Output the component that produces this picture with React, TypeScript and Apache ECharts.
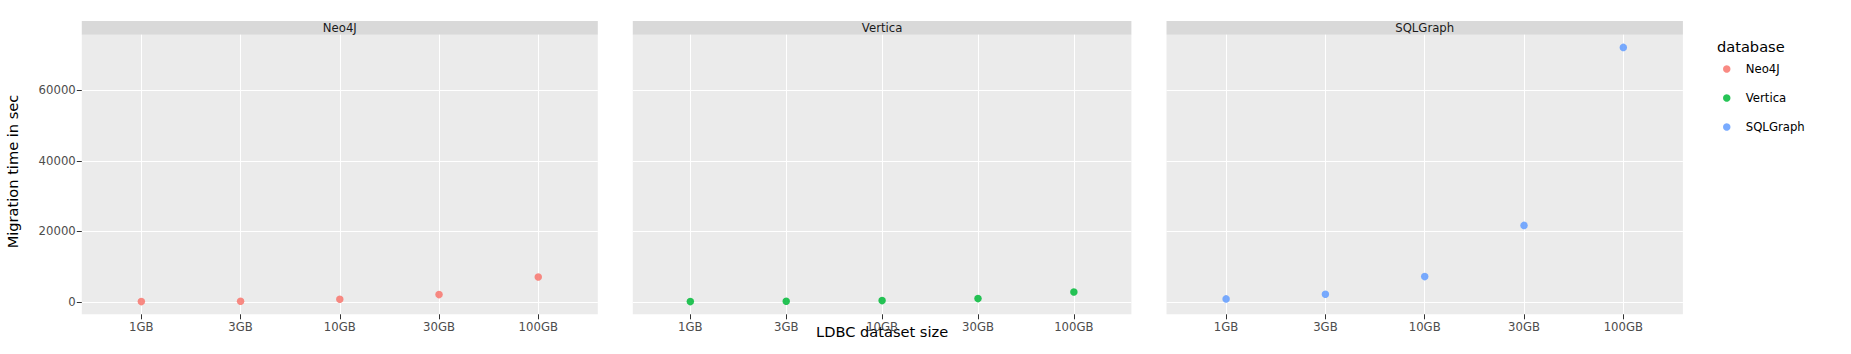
import React, { useEffect, useRef } from "react";
import * as echarts from "echarts";

const categories = ["1GB", "3GB", "10GB", "30GB", "100GB"];
const databases = ["Neo4J", "Vertica", "SQLGraph"];
const neo4jValues = [85, 170, 740, 2070, 7080];
const verticaValues = [85, 170, 370, 935, 2830];
const sqlgraphValues = [850, 2150, 7170, 21700, 72200];
const yTicks = [0, 20000, 40000, 60000];
const colors = ["#F8766D", "#00BA38", "#619CFF"];

const FONT = "DejaVu Sans";

export default function App() {
  const ref = useRef<HTMLDivElement>(null);
  useEffect(() => {
    if (!ref.current) return;
    const chart = echarts.init(ref.current, undefined, { renderer: "svg" });
    const seriesValues = [neo4jValues, verticaValues, sqlgraphValues];
    const grids = [
      { left: 81.8, top: 34.7, width: 516, height: 279.6 },
      { left: 632.8, top: 34.7, width: 498.6, height: 279.6 },
      { left: 1166.5, top: 34.7, width: 516.4, height: 279.6 },
    ];
    const xIdx = categories.map((_, i) => i);
    const xAxes = grids.map((_, g) => ({
      type: "value",
      gridIndex: g,
      min: -0.6,
      max: 4.6,
      position: "bottom",
      axisLine: { show: false, onZero: false },
      axisTick: { show: true, length: 5, customValues: xIdx, lineStyle: { color: "#333333", width: 1 } },
      axisLabel: {
        show: true,
        customValues: xIdx,
        margin: 7,
        formatter: (v: number) => categories[Math.round(v)] ?? "",
        color: "#4d4d4d",
        fontSize: 11.7,
        fontFamily: FONT,
      },
      splitLine: { show: true, lineStyle: { color: "#ffffff", width: 1 } },
      name: g === 1 ? "LDBC dataset size" : "",
      nameLocation: "middle",
      nameGap: 10,
      nameMoveOverlap: false,
      nameTextStyle: { color: "#000000", fontSize: 14.6, fontFamily: FONT },
    }));
    const yAxes = grids.map((_, g) => ({
      type: "value",
      gridIndex: g,
      min: -3520,
      max: 75800,
      position: "left",
      axisLine: { show: false, onZero: false },
      axisTick: {
        show: true,
        length: 5,
        customValues: yTicks,
        lineStyle: { color: g === 0 ? "#333333" : "rgba(0,0,0,0)", width: 1 },
      },
      axisLabel: {
        show: g === 0,
        customValues: yTicks,
        margin: 6,
        formatter: (v: number) => String(v),
        color: "#4d4d4d",
        fontSize: 11.7,
        fontFamily: FONT,
      },
      splitLine: { show: true, lineStyle: { color: "#ffffff", width: 1 } },
      name: g === 0 ? "Migration time in sec" : "",
      nameLocation: "middle",
      nameRotate: 90,
      nameGap: 62,
      nameMoveOverlap: false,
      nameTextStyle: { color: "#000000", fontSize: 14.6, fontFamily: FONT, padding: [0, 0, 0, 6] },
    }));
    const graphics: any[] = [];
    grids.forEach((gr, g) => {
      graphics.push({
        type: "rect",
        shape: { x: gr.left, y: 21, width: gr.width, height: 13.7 },
        style: { fill: "#d9d9d9" },
        silent: true,
      });
      graphics.push({
        type: "text",
        x: gr.left + gr.width / 2,
        y: 27.9,
        style: {
          text: databases[g],
          fill: "#1a1a1a",
          font: `11.7px "${FONT}"`,
          textAlign: "center",
          textVerticalAlign: "middle",
        },
        silent: true,
      });
    });
    graphics.push({
      type: "text",
      x: 1717,
      y: 46.7,
      style: {
        text: "database",
        fill: "#000000",
        font: `14.6px "${FONT}"`,
        textAlign: "left",
        textVerticalAlign: "middle",
      },
      silent: true,
    });
    chart.setOption({
      animation: false,
      backgroundColor: "#ffffff",
      grid: grids.map((gr) => ({
        ...gr,
        backgroundColor: "#ebebeb",
        show: true,
        borderWidth: 0,
        containLabel: false,
        outerBoundsMode: "none",
      })),
      xAxis: xAxes,
      yAxis: yAxes,
      legend: {
        data: databases,
        orient: "vertical",
        left: 1723,
        top: 62,
        padding: 0,
        itemGap: 15,
        itemWidth: 28,
        itemHeight: 7.5,
        icon: "circle",
        textStyle: { color: "#000000", fontSize: 11.7, fontFamily: FONT, lineHeight: 14 },
      },
      graphic: graphics,
      series: databases.map((name, g) => ({
        type: "scatter",
        name,
        xAxisIndex: g,
        yAxisIndex: g,
        symbol: "circle",
        symbolSize: 7.5,
        itemStyle: { color: colors[g], opacity: 0.85 },
        data: seriesValues[g].map((v, i) => [xIdx[i], v]),
      })),
    });
    return () => chart.dispose();
  }, []);
  return (
    <div
      ref={ref}
      style={{ position: "fixed", left: 0, top: 0, width: "1851px", height: "354px" }}
    />
  );
}
